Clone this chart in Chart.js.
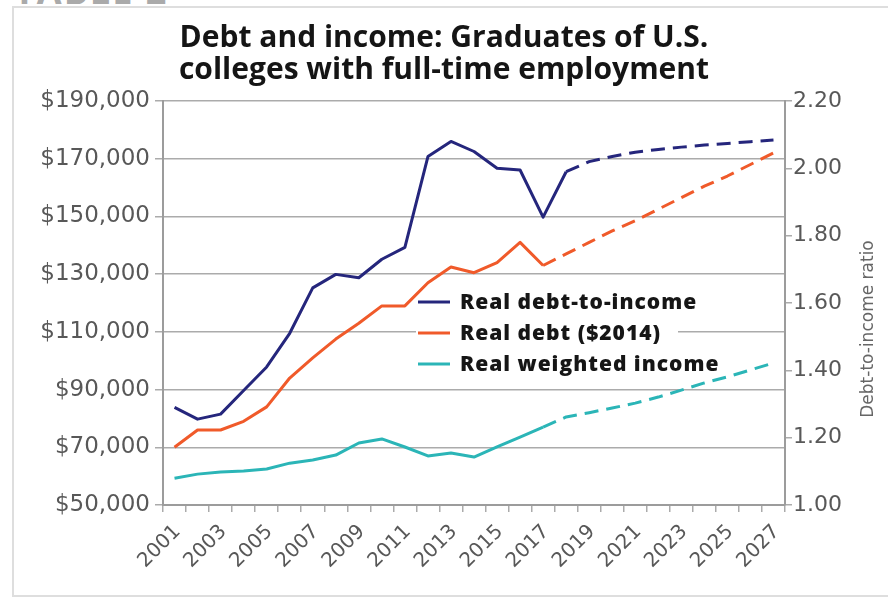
<!DOCTYPE html>
<html>
<head>
<meta charset="utf-8">
<title>Debt and income</title>
<script src="https://cdn.jsdelivr.net/npm/chart.js@4.4.1/dist/chart.umd.min.js"></script>
<style>
  html, body { margin: 0; padding: 0; background: #fff; }
  #wrap { position: relative; width: 888px; height: 601px; overflow: hidden; }
  .frame { position: absolute; left: 12px; top: 6px; width: 920px; height: 587px; border: 2px solid #dedede; }
  .tag { position: absolute; left: 14px; top: -34px; font: 700 36px 'Open Sans', sans-serif; color: #aaa; letter-spacing: 2px; }
  canvas { position: absolute; left: 0; top: 0; }
</style>
</head>
<body>
<div id="wrap">
  <div class="tag">TABLE 2</div>
  <div class="frame"></div>
  <canvas id="debtChart" width="888" height="601"></canvas>
</div>
<script>
// data
const years = ['2001', '2002', '2003', '2004', '2005', '2006', '2007', '2008', '2009',
  '2010', '2011', '2012', '2013', '2014', '2015', '2016', '2017', '2018', '2019',
  '2020', '2021', '2022', '2023', '2024', '2025', '2026', '2027'];

// right axis (ratio)
const debtToIncome = [1.29, 1.255, 1.27, 1.34, 1.41, 1.51, 1.645, 1.685, 1.675,
  1.73, 1.765, 2.035, 2.08, 2.05, 2.0, 1.995, 1.855, 1.99, 2.02,
  2.035, 2.048, 2.056, 2.063, 2.069, 2.074, 2.079, 2.084];

// left axis (dollars)
const realDebt = [70000, 76000, 76000, 79000, 84000, 94000, 101000, 107500, 113000,
  119000, 119000, 127000, 132500, 130500, 134000, 141000, 133000, 137000, 141000,
  145000, 148500, 152500, 156500, 160500, 164000, 168000, 172000];

const realIncome = [59300, 60700, 61400, 61800, 62500, 64500, 65600, 67300, 71500,
  72900, 70100, 67000, 68000, 66600, 70100, 73500, 77000, 80500, 82000,
  83600, 85300, 87400, 89800, 92300, 94400, 96800, 99200];

const dollarTicks = [50000, 70000, 90000, 110000, 130000, 150000, 170000, 190000];
const ratioTicks = [1.0, 1.2, 1.4, 1.6, 1.8, 2.0, 2.2];

const seriesNames = ['Real debt-to-income', 'Real debt ($2014)', 'Real weighted income'];
const titleLines = ['Debt and income: Graduates of U.S.', 'colleges with full-time employment'];
const ratioAxisTitle = 'Debt-to-income ratio';

const NAVY = '#25267c';
const ORANGE = '#f05a2a';
const TEAL = '#2bb5b7';
const GRID = '#ababab';
const TICK_TEXT = '#585858';

// projection is drawn dashed from this index on
function dashedFrom(start) {
  return { borderDash: ctx => ctx.p0DataIndex >= start ? [14, 8] : undefined };
}

// legend sits inside the plot, plus the rotated right-axis title
const innerLegend = {
  id: 'innerLegend',
  beforeDatasetsDraw(chart) {
    const { ctx, chartArea } = chart;
    ctx.save();
    ctx.fillStyle = '#fff';
    ctx.fillRect(chartArea.left + 253, chartArea.top + 188, 262, 90);
    ctx.restore();
  },
  afterDatasetsDraw(chart) {
    const { ctx, chartArea } = chart;
    const x0 = chartArea.left + 255;
    const y0 = chartArea.top + 201;
    ctx.save();
    ctx.font = '800 21px "Open Sans"';
    ctx.letterSpacing = '1px';
    ctx.textBaseline = 'middle';
    ctx.textAlign = 'left';
    chart.data.datasets.forEach((ds, i) => {
      const y = y0 + i * 31;
      ctx.strokeStyle = ds.borderColor;
      ctx.lineWidth = 3;
      ctx.beginPath();
      ctx.moveTo(x0, y);
      ctx.lineTo(x0 + 32, y);
      ctx.stroke();
      ctx.fillStyle = '#161616';
      ctx.fillText(ds.label, x0 + 42, y + 1);
    });
    ctx.restore();

    ctx.save();
    ctx.translate(chartArea.right + 84, chartArea.top + 228);
    ctx.rotate(-Math.PI / 2);
    ctx.font = '17px "DejaVu Sans"';
    ctx.fillStyle = '#666';
    ctx.textAlign = 'center';
    ctx.textBaseline = 'middle';
    ctx.fillText(ratioAxisTitle, 0, 0);
    ctx.restore();
  }
};

const ctx = document.getElementById('debtChart').getContext('2d');

new Chart(ctx, {
  type: 'line',
  data: {
    labels: years,
    datasets: [
      {
        label: seriesNames[0],
        data: debtToIncome,
        yAxisID: 'ratio',
        borderColor: NAVY,
        segment: dashedFrom(17)
      },
      {
        label: seriesNames[1],
        data: realDebt,
        yAxisID: 'dollars',
        borderColor: ORANGE,
        segment: dashedFrom(16)
      },
      {
        label: seriesNames[2],
        data: realIncome,
        yAxisID: 'dollars',
        borderColor: TEAL,
        segment: dashedFrom(16)
      }
    ]
  },
  options: {
    responsive: false,
    animation: false,
    devicePixelRatio: 1,
    layout: { padding: 0 },
    elements: {
      point: { radius: 0 },
      line: { borderWidth: 3, tension: 0, borderCapStyle: 'butt', borderJoinStyle: 'round' }
    },
    plugins: {
      legend: { display: false },
      tooltip: { enabled: false },
      title: {
        display: true,
        text: titleLines,
        color: '#151515',
        font: { family: 'Open Sans', size: 30, weight: '700', lineHeight: 32 / 30 },
        padding: { top: 22, bottom: 15 }
      }
    },
    scales: {
      x: {
        type: 'category',
        offset: true,
        grid: { offset: true, drawOnChartArea: false, tickLength: 7, color: GRID, lineWidth: 1.5 },
        border: { color: '#9c9c9c', width: 2 },
        ticks: {
          autoSkip: false,
          minRotation: 45,
          maxRotation: 45,
          padding: 8,
          labelOffset: 3,
          color: TICK_TEXT,
          font: { family: 'DejaVu Sans', size: 20 },
          callback: function(value, index) {
            return index % 2 === 0 ? this.getLabelForValue(value) : '';
          }
        },
        afterFit: s => { s.height = 96; }
      },
      dollars: {
        position: 'left',
        min: 50000,
        max: 190000,
        afterBuildTicks: s => { s.ticks = dollarTicks.map(v => ({ value: v })); },
        grid: { color: GRID, lineWidth: 1.5, tickLength: 8 },
        border: { color: '#9c9c9c', width: 2 },
        ticks: {
          padding: 5,
          color: TICK_TEXT,
          font: { family: 'DejaVu Sans', size: 23 },
          callback: v => '$' + v.toLocaleString('en-US')
        },
        afterFit: s => { s.width = 163; }
      },
      ratio: {
        position: 'right',
        min: 1.0,
        max: 2.2,
        afterBuildTicks: s => { s.ticks = ratioTicks.map(v => ({ value: v })); },
        grid: { drawOnChartArea: false, color: GRID, lineWidth: 1.5, tickLength: 7 },
        border: { color: '#9c9c9c', width: 2 },
        ticks: {
          padding: 1,
          color: TICK_TEXT,
          font: { family: 'DejaVu Sans', size: 22 },
          callback: v => v.toFixed(2)
        },
        afterFit: s => { s.width = 103; }
      }
    }
  },
  plugins: [innerLegend]
});
</script>
</body>
</html>
